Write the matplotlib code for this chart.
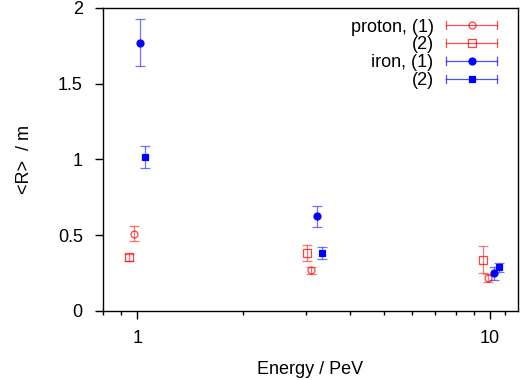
import matplotlib
matplotlib.use("Agg")
import matplotlib.pyplot as plt
import numpy as np
from matplotlib.legend_handler import HandlerBase
from matplotlib.lines import Line2D

plt.rcParams['font.family'] = ['Liberation Sans', 'DejaVu Sans']
plt.rcParams['font.size'] = 13

# energies (PeV), mean radius <R> (m) and errors
p1_E = [0.98, 3.11, 9.89]
p1_R = [0.51, 0.268, 0.218]
p1_err = [0.048, 0.024, 0.027]

p2_E = [0.949, 3.02, 9.57]
p2_R = [0.354, 0.383, 0.339]
p2_err = [0.022, 0.05, 0.089]

fe1_E = [1.02, 3.24, 10.29]
fe1_R = [1.769, 0.625, 0.249]
fe1_err = [0.155, 0.07, 0.042]

fe2_E = [1.05, 3.33, 10.6]
fe2_R = [1.016, 0.383, 0.288]
fe2_err = [0.072, 0.04, 0.029]

labels = ["proton, (1)", "(2)", "iron, (1)", "(2)"]


class HandlerXErr(HandlerBase):
    """gnuplot-like key sample: horizontal bar with end ticks and a marker."""
    def create_artists(self, legend, orig, xdescent, ydescent, width, height, fontsize, trans):
        y = height / 2 - ydescent
        x0, x1 = -xdescent, width - xdescent
        c = orig.get_color()
        a = orig.get_alpha()
        line = Line2D([x0, x1], [y, y], color=c, lw=0.9, alpha=0.7)
        cap_l = Line2D([x0, x0], [y - 3, y + 3], color=c, lw=0.9, alpha=0.7)
        cap_r = Line2D([x1, x1], [y - 3, y + 3], color=c, lw=0.9, alpha=0.7)
        mk = Line2D([(x0 + x1) / 2], [y], marker=orig.get_marker(), ms=orig.get_markersize(),
                    mfc=orig.get_markerfacecolor(), mec=c, mew=0.9, ls='none', alpha=a)
        arts = [line, cap_l, cap_r, mk]
        for art in arts:
            art.set_transform(trans)
        return arts


fig = plt.figure(figsize=(5.22, 3.80), dpi=100)
ax = fig.add_axes([0.1973, 0.1816, 0.795, 0.7974])

series = [
    (p1_E, p1_R, p1_err, 'o', 'none', '#ff0000', 5, 0.75),
    (p2_E, p2_R, p2_err, 's', 'none', '#ff0000', 5.5, 0.75),
    (fe1_E, fe1_R, fe1_err, 'o', '#0000ff', '#0000ff', 5, 1.0),
    (fe2_E, fe2_R, fe2_err, 's', '#0000ff', '#0000ff', 5, 1.0),
]
handles = []
for E, R, err, m, fc, c, ms, al in series:
    ax.errorbar(E, R, yerr=err, fmt='none', ecolor=c, elinewidth=0.9,
                capsize=3.5, capthick=0.9, alpha=0.55)
    ax.plot(E, R, ls='none', marker=m, mfc=fc, mec=c, mew=0.9, ms=ms, alpha=al)
    handles.append(Line2D([], [], color=c, marker=m, mfc=fc, ms=ms, ls='none', alpha=al))

ax.set_xscale('log')
ax.set_xlim(0.8, 12)
ax.set_ylim(0, 2)
ax.set_xticks([1, 10])
ax.set_xticklabels(['1', '10'])
ax.set_xticks([0.8, 0.9] + list(range(2, 10)) + [11], minor=True)
ax.xaxis.set_minor_formatter(matplotlib.ticker.NullFormatter())
ax.set_yticks([0, 0.5, 1, 1.5, 2])
ax.set_yticklabels(['0', '0.5', '1', '1.5', '2'])

ax.tick_params(which='major', direction='out', length=5.5, width=1, pad=9, top=False, right=False)
ax.tick_params(which='minor', direction='out', length=3, width=1, top=False, right=False)
ax.tick_params(axis='x', which='major', pad=8)
for s in ax.spines.values():
    s.set_linewidth(1)

ax.set_xlabel("Energy / PeV", labelpad=10)
ax.set_ylabel("<R>  / m", labelpad=18)

ax.legend(handles, labels, handler_map={Line2D: HandlerXErr()}, loc='upper right',
          bbox_to_anchor=(0.949, 0.965), frameon=False, markerfirst=False,
          handlelength=2.8, handletextpad=0.7, labelspacing=0.05,
          borderaxespad=0, borderpad=0)

fig.savefig("out.png", dpi=100)
